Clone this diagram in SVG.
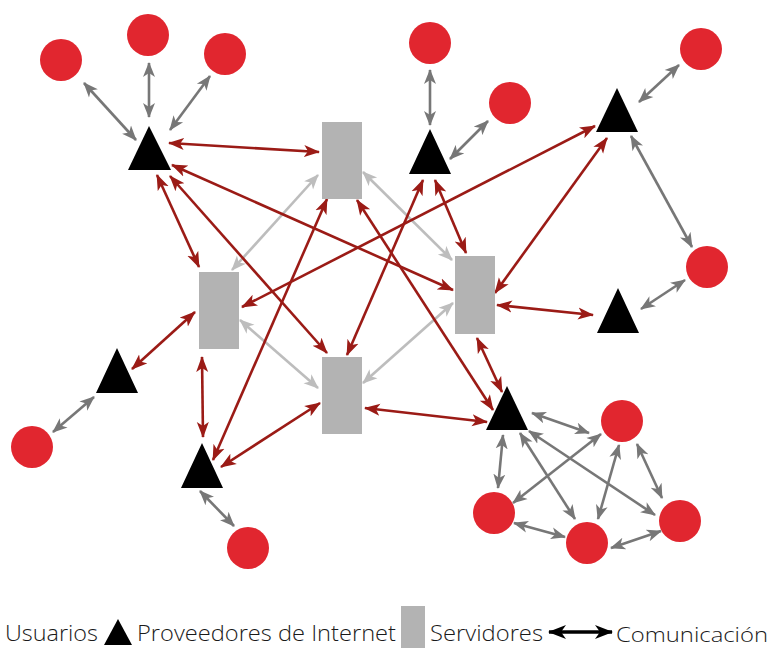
<svg xmlns="http://www.w3.org/2000/svg" width="774" height="649" viewBox="0 0 774 649">
<style>
.g{stroke:#777777;stroke-width:2.6;fill:none;marker-start:url(#ag);marker-end:url(#ag)}
.r{stroke:#9b1b16;stroke-width:2.6;fill:none;marker-start:url(#ar);marker-end:url(#ar)}
.l{stroke:#bdbdbd;stroke-width:2.6;fill:none;marker-start:url(#al);marker-end:url(#al)}
.u{fill:#e1262f}
.t{fill:#000000}
.s{fill:#b3b3b3}
.txt{font-family:"Open Sans","Liberation Sans",sans-serif;font-weight:300;font-size:22px;fill:#1a1a1a}
</style>
<defs>
<marker id="ag" markerUnits="userSpaceOnUse" markerWidth="17" markerHeight="14" refX="14" refY="7" orient="auto-start-reverse" viewBox="0 0 17 14"><path d="M0,1 L15,7 L0,13 L4,7 Z" fill="#777777"/></marker>
<marker id="ar" markerUnits="userSpaceOnUse" markerWidth="18" markerHeight="14" refX="15" refY="7" orient="auto-start-reverse" viewBox="0 0 18 14"><path d="M0,1 L16,7 L0,13 L4,7 Z" fill="#9b1b16"/></marker>
<marker id="al" markerUnits="userSpaceOnUse" markerWidth="17" markerHeight="14" refX="14" refY="7" orient="auto-start-reverse" viewBox="0 0 17 14"><path d="M0,1 L15,7 L0,13 L4,7 Z" fill="#bdbdbd"/></marker>
<marker id="ak" markerUnits="userSpaceOnUse" markerWidth="20" markerHeight="16" refX="17" refY="8" orient="auto-start-reverse" viewBox="0 0 20 16"><path d="M0,1 L18,8 L0,15 L5,8 Z" fill="#000000"/></marker>
</defs>
<g id="connectors">
<line class="l" x1="232" y1="270" x2="318" y2="175"/>
<line class="l" x1="363" y1="172" x2="452" y2="260"/>
<line class="l" x1="453" y1="303" x2="363" y2="383"/>
<line class="l" x1="240" y1="320" x2="318" y2="388"/>
<line class="g" x1="84" y1="83" x2="136" y2="140"/>
<line class="g" x1="149" y1="63" x2="149" y2="117"/>
<line class="g" x1="210" y1="76" x2="170" y2="130"/>
<line class="g" x1="430" y1="70" x2="430" y2="125"/>
<line class="g" x1="488" y1="121" x2="450" y2="159"/>
<line class="g" x1="679" y1="65" x2="639" y2="102"/>
<line class="g" x1="631" y1="136" x2="692" y2="247"/>
<line class="g" x1="685" y1="280" x2="641" y2="309"/>
<line class="g" x1="53" y1="432" x2="94" y2="397"/>
<line class="g" x1="200" y1="491" x2="234" y2="526"/>
<line class="g" x1="532" y1="413" x2="589" y2="433"/>
<line class="g" x1="503" y1="435" x2="498" y2="488"/>
<line class="g" x1="520" y1="433" x2="575" y2="519"/>
<line class="g" x1="529" y1="431" x2="655" y2="515"/>
<line class="g" x1="601" y1="434" x2="513" y2="503"/>
<line class="g" x1="619" y1="445" x2="598" y2="519"/>
<line class="g" x1="637" y1="444" x2="662" y2="498"/>
<line class="g" x1="514" y1="523" x2="565" y2="537"/>
<line class="g" x1="611" y1="548" x2="661" y2="531"/>
<line class="r" x1="169" y1="143" x2="319" y2="152"/>
<line class="r" x1="172" y1="165" x2="453" y2="290"/>
<line class="r" x1="157" y1="175" x2="199" y2="267"/>
<line class="r" x1="170" y1="176" x2="327" y2="353"/>
<line class="r" x1="327" y1="199" x2="213" y2="460"/>
<line class="r" x1="357" y1="200" x2="493" y2="410"/>
<line class="r" x1="242" y1="307" x2="595" y2="126"/>
<line class="r" x1="195" y1="312" x2="132" y2="369"/>
<line class="r" x1="202" y1="357" x2="203" y2="437"/>
<line class="r" x1="221" y1="467" x2="320" y2="403"/>
<line class="r" x1="347" y1="355" x2="423" y2="180"/>
<line class="r" x1="435" y1="180" x2="466" y2="253"/>
<line class="r" x1="607" y1="138" x2="495" y2="293"/>
<line class="r" x1="497" y1="305" x2="593" y2="315"/>
<line class="r" x1="477" y1="338" x2="502" y2="392"/>
<line class="r" x1="365" y1="408" x2="487" y2="422"/>
</g>
<g id="servers">
<rect id="R1" class="s" x="322" y="122" width="40" height="77"/>
<rect id="R2" class="s" x="199" y="272" width="40" height="77"/>
<rect id="R3" class="s" x="455" y="256" width="40" height="78"/>
<rect id="R4" class="s" x="322" y="357" width="40" height="77"/>
</g>
<g id="isps">
<polygon id="T1" class="t" points="149,126 128,170 171,170"/>
<polygon id="T2" class="t" points="430,129 409,174 451,174"/>
<polygon id="T3" class="t" points="617,88 596,132 638,132"/>
<polygon id="T4" class="t" points="618,288 597,333 639,333"/>
<polygon id="T5" class="t" points="117,348 96,393 138,393"/>
<polygon id="T6" class="t" points="202,443 181,488 223,488"/>
<polygon id="T7" class="t" points="507,386 486,430 528,430"/>
</g>
<g id="users">
<circle id="C1" class="u" cx="61" cy="60" r="21"/>
<circle id="C2" class="u" cx="148" cy="35" r="21"/>
<circle id="C3" class="u" cx="225" cy="54" r="21"/>
<circle id="C4" class="u" cx="430" cy="43" r="21"/>
<circle id="C5" class="u" cx="510" cy="103" r="21"/>
<circle id="C6" class="u" cx="701" cy="49" r="21"/>
<circle id="C7" class="u" cx="707" cy="267" r="21"/>
<circle id="C8" class="u" cx="32" cy="447" r="21"/>
<circle id="C9" class="u" cx="248" cy="548" r="21"/>
<circle id="C10" class="u" cx="622" cy="421" r="21"/>
<circle id="C11" class="u" cx="494" cy="513" r="21"/>
<circle id="C12" class="u" cx="587" cy="543" r="21"/>
<circle id="C13" class="u" cx="680" cy="521" r="21"/>
</g>
<g id="legend">
<text class="txt" x="5" y="641" textLength="93" lengthAdjust="spacingAndGlyphs">Usuarios</text>
<polygon class="t" points="118,619 104,645 132,645"/>
<text class="txt" x="137" y="641" textLength="259" lengthAdjust="spacingAndGlyphs">Proveedores de Internet</text>
<rect class="s" x="401" y="606" width="24" height="42"/>
<text class="txt" x="430" y="641" textLength="113" lengthAdjust="spacingAndGlyphs">Servidores</text>
<line x1="549" y1="632" x2="612" y2="632" stroke="#000" stroke-width="3.5" marker-start="url(#ak)" marker-end="url(#ak)"/>
<text class="txt" x="616" y="642" font-size="21" textLength="152" lengthAdjust="spacingAndGlyphs" style="font-size:21px">Comunicación</text>
</g>
</svg>
